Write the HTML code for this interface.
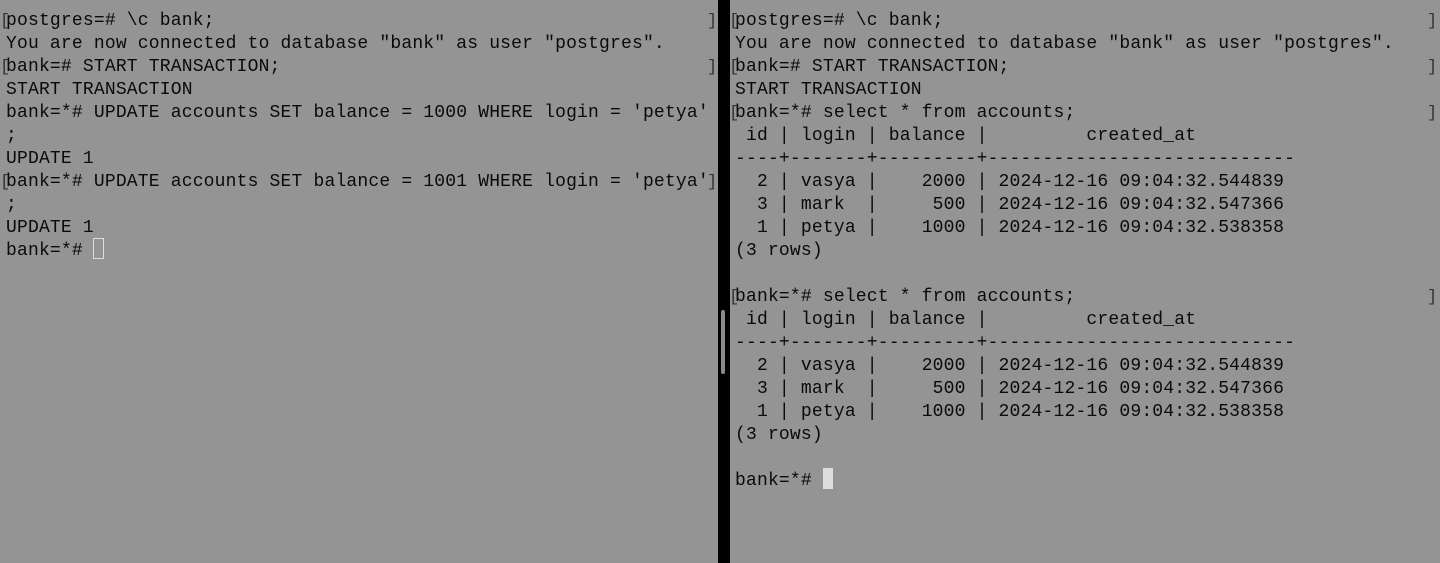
<!DOCTYPE html>
<html><head><meta charset="utf-8"><style>
html,body{margin:0;padding:0;}
body{width:1440px;height:563px;background:#949494;position:relative;overflow:hidden;font-family:"Liberation Mono","DejaVu Sans Mono",monospace;font-size:18px;color:#0a0a0a;}
pre{position:absolute;margin:0;font:inherit;line-height:23px;white-space:pre;letter-spacing:0.18px;}
#l{left:6px;top:10px;}
#r{left:735px;top:10px;}
.div{position:absolute;left:718px;top:0;width:12px;height:563px;background:#000;}
.thumb{position:absolute;left:721px;top:310px;width:4px;height:64px;background:#8a8a8a;border-radius:2px;}
.br{position:absolute;font-size:17px;color:#333;line-height:23px;}
.cur1{position:absolute;left:93px;top:238px;width:9px;height:19px;border:1.5px solid #ddd;}
.cur2{position:absolute;left:823px;top:468px;width:10px;height:21px;background:#ddd;}
</style></head><body>
<pre id="l">postgres=# \c bank;
You are now connected to database "bank" as user "postgres".
bank=# START TRANSACTION;
START TRANSACTION
bank=*# UPDATE accounts SET balance = 1000 WHERE login = 'petya'
;
UPDATE 1
bank=*# UPDATE accounts SET balance = 1001 WHERE login = 'petya'
;
UPDATE 1
bank=*# </pre>
<pre id="r">postgres=# \c bank;
You are now connected to database "bank" as user "postgres".
bank=# START TRANSACTION;
START TRANSACTION
bank=*# select * from accounts;
 id | login | balance |         created_at
----+-------+---------+----------------------------
  2 | vasya |    2000 | 2024-12-16 09:04:32.544839
  3 | mark  |     500 | 2024-12-16 09:04:32.547366
  1 | petya |    1000 | 2024-12-16 09:04:32.538358
(3 rows)

bank=*# select * from accounts;
 id | login | balance |         created_at
----+-------+---------+----------------------------
  2 | vasya |    2000 | 2024-12-16 09:04:32.544839
  3 | mark  |     500 | 2024-12-16 09:04:32.547366
  1 | petya |    1000 | 2024-12-16 09:04:32.538358
(3 rows)

bank=*# </pre>
<div class="br" style="left:0px;top:10px">[</div>
<div class="br" style="left:0px;top:56px">[</div>
<div class="br" style="left:0px;top:171px">[</div>
<div class="br" style="left:707px;top:10px">]</div>
<div class="br" style="left:707px;top:56px">]</div>
<div class="br" style="left:707px;top:171px">]</div>
<div class="br" style="left:729px;top:10px">[</div>
<div class="br" style="left:729px;top:56px">[</div>
<div class="br" style="left:729px;top:102px">[</div>
<div class="br" style="left:729px;top:286px">[</div>
<div class="br" style="left:1427px;top:10px">]</div>
<div class="br" style="left:1427px;top:56px">]</div>
<div class="br" style="left:1427px;top:102px">]</div>
<div class="br" style="left:1427px;top:286px">]</div>
<div class="div"></div>
<div class="thumb"></div>
<div class="cur1"></div>
<div class="cur2"></div>
</body></html>
